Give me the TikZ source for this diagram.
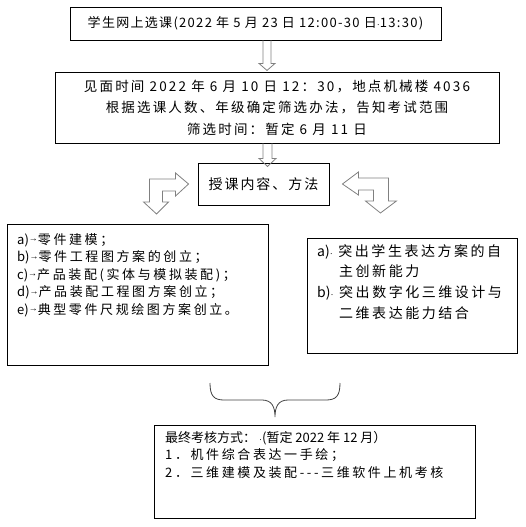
\documentclass[tikz,border=0pt]{standalone}
\usepackage{fontspec}
\setmainfont{Noto Sans CJK SC}
\newfontfamily\latinfont{Liberation Sans}
\tikzstyle{box}=[draw, line width=0.9pt, inner sep=0pt]
\tikzstyle{list}=[anchor=north west, inner sep=0pt, align=left]
\tikzstyle{blockarrow}=[draw=gray, line width=0.8pt, line join=miter]
\tikzstyle{joinbrace}=[draw=black!75, line width=0.8pt]
\newcommand{\tabmark}{\raisebox{2.5pt}{\latinfont\fontsize{9}{9}\selectfont →}}
\newcommand{\spacemark}{{\latinfont\fontsize{9}{9}\selectfont ·}}
\newcommand{\lat}[1]{{\addfontfeatures{LetterSpace=0}#1}}
\newcommand{\spacedfont}[3]{\fontsize{#1}{#2}\selectfont\addfontfeatures{LetterSpace=#3}}

\begin{document}
\begin{tikzpicture}[x=1pt, y=1pt]
  \useasboundingbox (0,0) rectangle (525,-527);
  % boxes
  \node[box, minimum width=371pt, minimum height=33pt, font=\spacedfont{13}{16}{10}] (select) at (255.5,-23.5)
    {学生网上选课(2022 年 5 月 23 日 12:00-30 日\spacemark 13:30)};
  \node[box, minimum width=444pt, minimum height=71pt, align=center, font=\spacedfont{13.5}{21.5}{16}] (meet) at (277,-107.5)
    {见面时间 2022 年 6 月 10 日 12：30，地点机械楼 4036\\
     根据选课人数、年级确定筛选办法，告知考试范围\\
     筛选时间：暂定 6 月 11 日};
  \node[box, minimum width=131pt, minimum height=42pt, font=\spacedfont{14}{16}{14}] (content) at (263.5,-184) {授课内容、方法};
  \node[box, minimum width=261pt, minimum height=141pt] (parts) at (137.5,-294.5) {};
  \node[list, font=\spacedfont{13}{17.5}{20}] (partstext) at (17,-233)
    {\lat{a)}\tabmark 零件建模；\\
     \lat{b)}\tabmark 零件工程图方案的创立；\\
     \lat{c)}\tabmark 产品装配(实体与模拟装配)；\\
     \lat{d)}\tabmark 产品装配工程图方案创立；\\
     \lat{e)}\tabmark 典型零件尺规绘图方案创立。};
  \node[box, minimum width=210pt, minimum height=115pt] (aims) at (412,-295.5) {};
  \node[list, font=\spacedfont{14}{20.7}{18}] (aimstext) at (317,-244)
    {\lat{a)}\spacemark\ 突出学生表达方案的自\\
     \hspace*{22pt}主创新能力\\
     \lat{b)}\spacemark\ 突出数字化三维设计与\\
     \hspace*{22pt}二维表达能力结合};
  \node[box, minimum width=321pt, minimum height=93pt] (exam) at (314.5,-471.5) {};
  \node[list, font=\fontsize{13}{17.5}\selectfont] (examtext) at (165,-431)
    {最终考核方式：\ \spacemark(暂定 2022 年 12 月）\\
     {\addfontfeatures{LetterSpace=20}1．机件综合表达一手绘；}\\
     {\addfontfeatures{LetterSpace=20}2．三维建模及装配-{}-{}-三维软件上机考核}};
  % arrows
  \draw[blockarrow] ([xshift=7.5pt]select.south) -- ++(0,-23) -- ++(-4,0) -- ++(8,-7) -- ++(8,7) -- ++(-4,0) -- ++(0,23);
  \draw[blockarrow] ([xshift=-14pt]meet.south) -- ++(0,-15) -- ++(-4,0) -- ++(8.5,-8) -- ++(8.5,8) -- ++(-4,0) -- ++(0,15);
  \draw[blockarrow] ([xshift=-9pt]content.west) -- ++(-13,11) -- ++(0,-6) -- ++(-26,0) -- ++(0,-23) -- ++(-6,0)
    -- ++(13,-12) -- ++(12,12) -- ++(-6,0) -- ++(0,11) -- ++(13,0) -- ++(0,-5) -- cycle;
  \draw[blockarrow] ([xshift=13pt]content.east) -- ++(16,12) -- ++(0,-6) -- ++(30,0) -- ++(0,-23) -- ++(8,0)
    -- ++(-16,-12) -- ++(-15,12) -- ++(8,0) -- ++(0,11) -- ++(-15,0) -- ++(0,-5) -- cycle;
  % brace
  \coordinate (braceL) at (210,-383);
  \coordinate (braceR) at (340,-383);
  \draw[joinbrace] (braceL) .. controls ++(0,-13) and ++(-10,0) .. ++(14,-17) -- ++(38,0)
    .. controls ++(10,0) and ++(0,10) .. ++(13,-17) .. controls ++(0,10) and ++(-10,0) .. ++(13,17)
    -- ++(38,0) .. controls ++(10,0) and ++(0,-13) .. (braceR);
\end{tikzpicture}
\end{document}
